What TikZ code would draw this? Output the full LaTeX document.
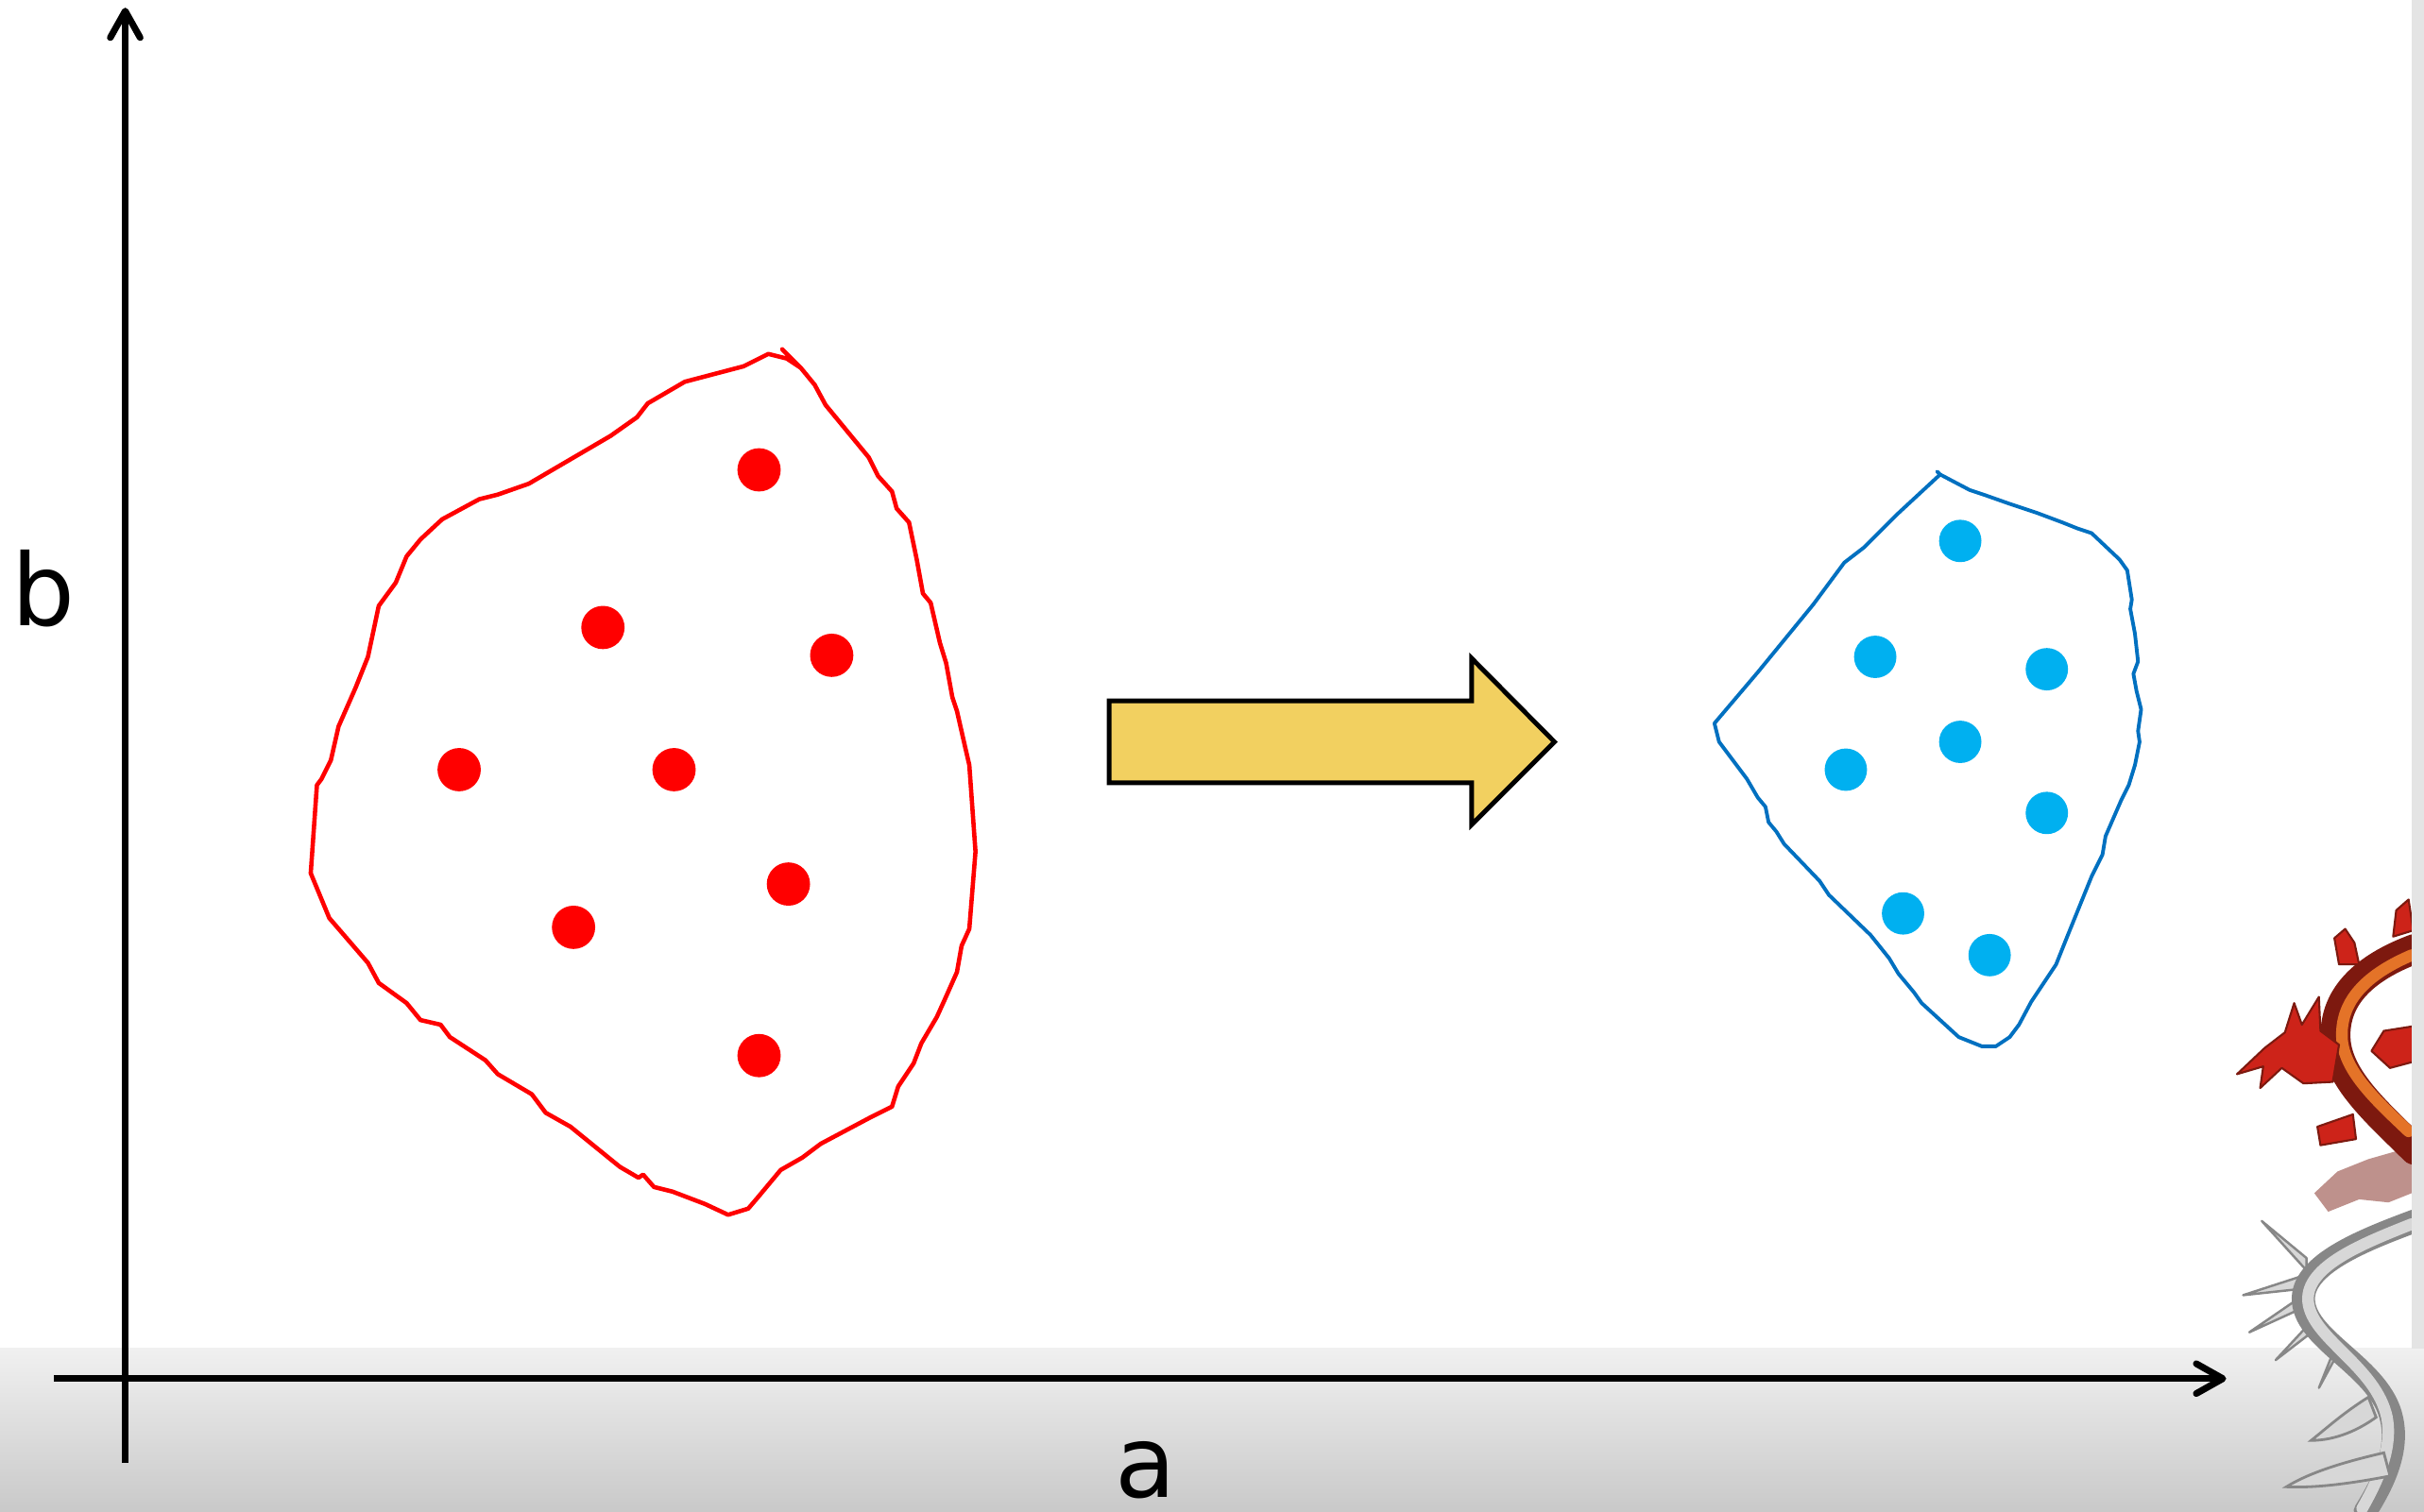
\documentclass[tikz,border=0pt]{standalone}
\usepackage{fontspec}
\setmainfont{DejaVu Sans}
\usepackage{tikz}
\usetikzlibrary{arrows.meta,positioning}

\definecolor{punktrot}{RGB}{255,0,0}
\definecolor{punktblau}{RGB}{0,176,240}
\definecolor{randblau}{RGB}{0,112,192}
\definecolor{pfeilgelb}{RGB}{242,208,96}
\definecolor{bandoben}{RGB}{240,240,240}
\definecolor{bandunten}{RGB}{201,201,201}
\definecolor{streifen}{RGB}{228,228,228}
\definecolor{drachenrot}{RGB}{205,35,25}
\definecolor{drachendunkel}{RGB}{125,25,15}
\definecolor{drachenorange}{RGB}{228,115,40}
\definecolor{drachenrosa}{RGB}{190,145,140}
\definecolor{drachengrau}{RGB}{135,135,135}
\definecolor{drachenhell}{RGB}{215,215,215}

\begin{document}
\begin{tikzpicture}[x=0.016365cm,y=-0.016365cm,
  achse/.style={line width=2pt,-{Straight Barb[length=8pt,width=9pt,round]}},
  beschriftung/.style={font=\fontsize{30}{36}\selectfont,anchor=base,inner sep=0pt},
  wolke/.style={line width=1.3pt,line join=round,line cap=round},
  schuppe/.style={draw=drachendunkel,fill=drachenrot,line width=0.6pt,line join=round},
  graukralle/.style={draw=drachengrau,fill=drachenhell,line width=0.7pt,line join=round}]
\useasboundingbox (0,0) rectangle (1568,978);
\fill[white] (0,0) rectangle (1568,978);
%Hintergrund unten
\shade[top color=bandoben,bottom color=bandunten] (0,872.5) rectangle (1568,978);

%Drache (vereinfacht), rot oben, grau unten
\fill[drachenrosa] (1560,742) -- (1532,750) -- (1512,758) -- (1497,772) -- (1506,784) -- (1526,776) -- (1545,778) -- (1560,772) -- cycle;
\draw[drachendunkel,line width=9pt,line cap=round] (1562,614) .. controls (1530,626) and (1508,645) .. (1511,675) .. controls (1514,700) and (1540,722) .. (1562,744);
\draw[drachenorange,line width=3.5pt,line cap=round] (1560,618) .. controls (1532,630) and (1513,647) .. (1515,673) .. controls (1517,694) and (1538,713) .. (1558,732);
\path[schuppe] (1447,695) -- (1465,678) -- (1478,668) -- (1484,649) -- (1489,663) -- (1500,645) -- (1501,667) -- (1513,676) -- (1509,700) -- (1490,701) -- (1476,691) -- (1462,704) -- (1464,690) -- cycle;
\path[schuppe] (1513,624) -- (1510,607) -- (1517,601) -- (1523,610) -- (1526,624) -- cycle;
\path[schuppe] (1548,606) -- (1550,589) -- (1558,582) -- (1561,602) -- cycle;
\path[schuppe] (1561,664) -- (1542,667) -- (1534,680) -- (1546,691) -- (1561,687) -- cycle;
\path[schuppe] (1522,721) -- (1499,729) -- (1501,741) -- (1524,737) -- cycle;
\foreach \kx/\ky/\sx/\sy in {1492/818/1463/790, 1488/830/1451/838, 1490/842/1455/862, 1498/856/1472/880, 1512/872/1500/898}
  \path[graukralle] (\kx,\ky-4) -- (\sx,\sy) -- (\kx,\ky+4) -- cycle;
\draw[drachengrau,line width=7pt,line cap=round] (1562,790) .. controls (1530,802) and (1488,818) .. (1490,842) .. controls (1492,868) and (1540,885) .. (1547,918) .. controls (1552,940) and (1540,962) .. (1530,978);
\draw[drachenhell,line width=3.5pt,line cap=round] (1560,792) .. controls (1530,804) and (1491,819) .. (1493,842) .. controls (1495,866) and (1537,884) .. (1544,917) .. controls (1548,938) and (1537,960) .. (1528,976);
\filldraw[fill=drachenhell,draw=drachengrau,line width=0.8pt] (1542,940) .. controls (1520,945) and (1495,952) .. (1479,962) .. controls (1500,963) and (1525,959) .. (1546,955) -- cycle;
\filldraw[fill=drachenhell,draw=drachengrau,line width=0.8pt] (1532,904) .. controls (1516,914) and (1505,924) .. (1495,932) .. controls (1511,932) and (1526,925) .. (1537,917) -- cycle;

%Streifen rechts
\fill[streifen] (1560,0) rectangle (1568,872.5);

%Achsen
\coordinate (xanfang) at (35,892);
\coordinate (xende) at (1440,892);
\coordinate (yanfang) at (81,946.5);
\coordinate (yende) at (81,5);
\draw[achse] (xanfang) -- (xende);
\draw[achse] (yanfang) -- (yende);
\node[beschriftung] (alabel) at (741,969) {a};
\node[beschriftung] (blabel) at (28,405) {b};

%Punktwolke links
\draw[wolke,punktrot] (506,226) -- (518,238) -- (527,249) -- (534,262) -- (562,296) -- (568,308) -- (577,318) -- (580,329) -- (588,338) -- (593,362) -- (597,384) -- (602,390) -- (608,416) -- (612,429) -- (616,451) -- (619,460) -- (624,482) -- (627,495) -- (631,551) -- (627,601) -- (622,612) -- (619,629) -- (611,647) -- (606,658) -- (596,675) -- (591,688) -- (581,703) -- (577,716) -- (563,723) -- (531,740) -- (519,749) -- (505,757) -- (490,775) -- (484,782) -- (471,786) -- (456,779) -- (435,771) -- (423,768) -- (416,760) -- (413,762) -- (401,755) -- (369,729) -- (353,720) -- (344,708) -- (322,695) -- (314,686) -- (291,671) -- (285,663) -- (272,660) -- (263,649) -- (245,636) -- (238,623) -- (213,594) -- (201,565) -- (205,508) -- (208,504) -- (214,492) -- (219,470) -- (230,445) -- (238,425) -- (245,392) -- (256,377) -- (263,360) -- (272,349) -- (286,336) -- (310,323) -- (322,320) -- (342,313) -- (395,282) -- (412,270) -- (419,261) -- (443,247) -- (481,237) -- (497,229) -- (509,232) -- (518,238);
\foreach \px/\py in {491/304,390/406,538/424,297/498,436/498,510/572,371/600,491/683}
  \fill[punktrot] (\px,\py) circle (14);

%Pfeil in der Mitte
\filldraw[fill=pfeilgelb,draw=black,line width=1.4pt,line join=miter] (717.5,453.5) -- (952,453.5) -- (952,426) -- (1005.5,480) -- (952,533.5) -- (952,506.5) -- (717.5,506.5) -- cycle;

%Punktwolke rechts
\draw[wolke,randblau,line width=1.1pt] (1253,305) -- (1255,307) -- (1274,317) -- (1283,320) -- (1300,326) -- (1318,332) -- (1334,338) -- (1344,342) -- (1353,345) -- (1371,362) -- (1376,369) -- (1379,388) -- (1378,394) -- (1381,410) -- (1383,428) -- (1380,436) -- (1382,447) -- (1385,459) -- (1383,473) -- (1384,480) -- (1381,495) -- (1377,508) -- (1372,518) -- (1362,541) -- (1360,553) -- (1353,567) -- (1338,604) -- (1330,624) -- (1314,648) -- (1306,663) -- (1300,671) -- (1291,677) -- (1282,677) -- (1267,671) -- (1243,649) -- (1238,642) -- (1228,630) -- (1222,620) -- (1210,605) -- (1183,579) -- (1177,570) -- (1154,546) -- (1149,538) -- (1144,532) -- (1142,522) -- (1137,516) -- (1130,504) -- (1112,480) -- (1109,468) -- (1137,435) -- (1173,391) -- (1193,364) -- (1206,354) -- (1228,332) -- (1255,307);
\foreach \px/\py in {1268/350,1213/425,1324/433,1268/480,1194/498,1324/526,1231/591,1287/618}
  \fill[punktblau] (\px,\py) circle (13.7);
\end{tikzpicture}
\end{document}
